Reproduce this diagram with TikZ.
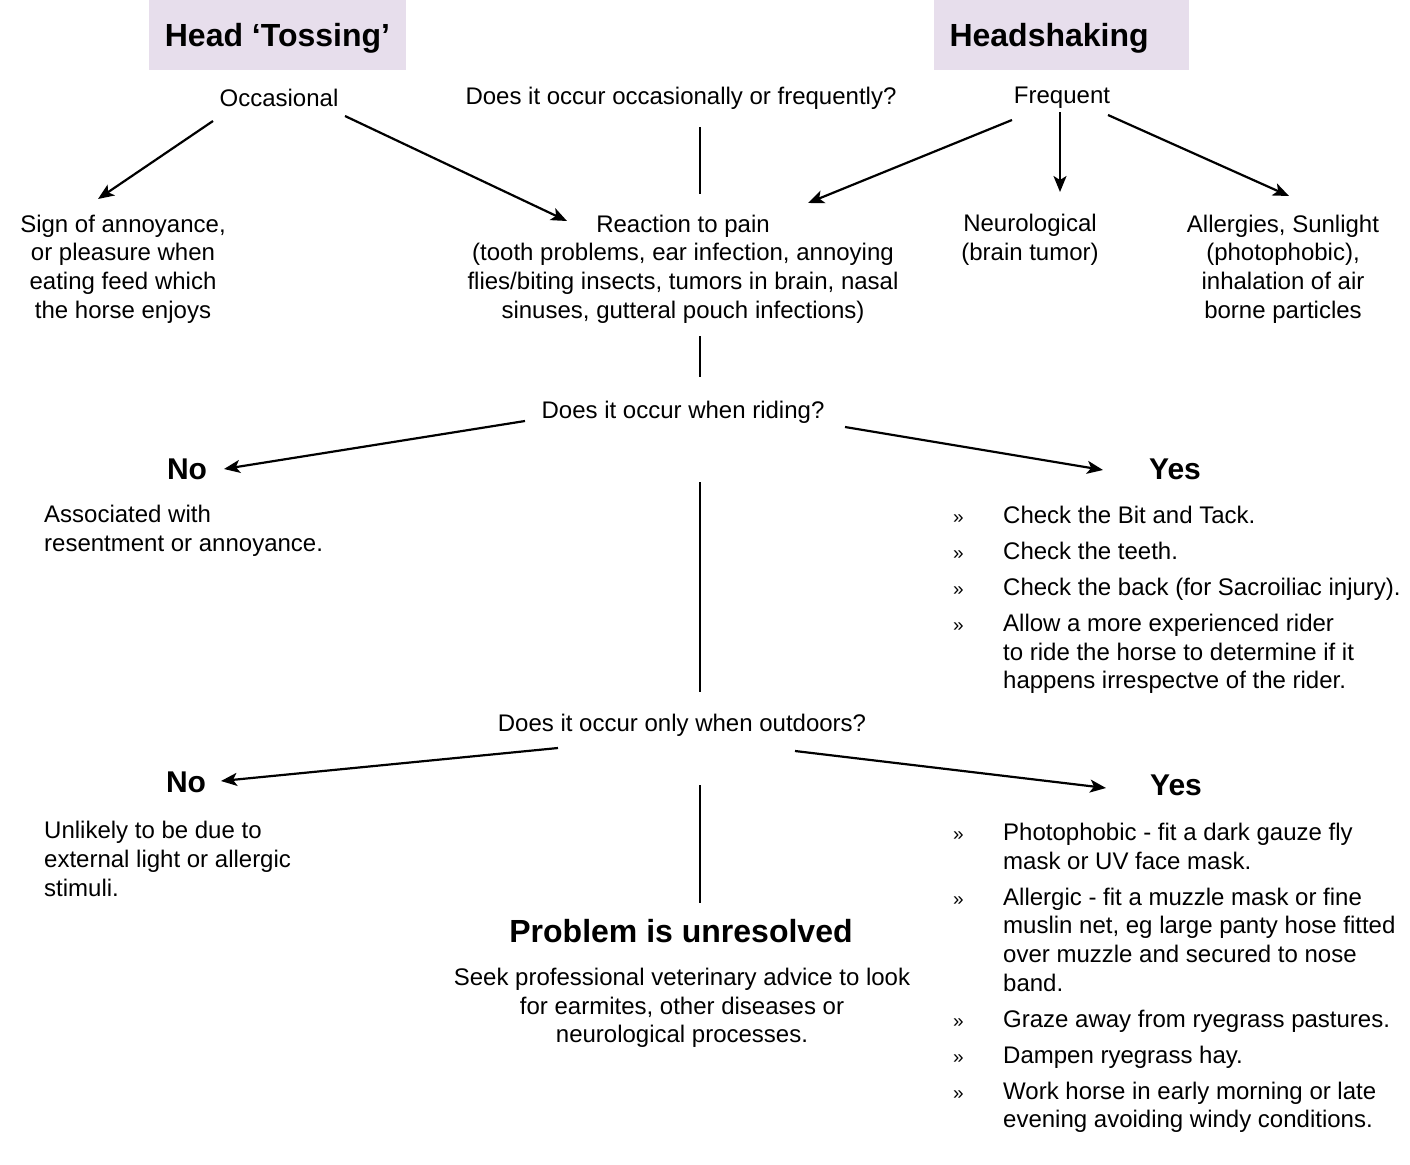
\documentclass[tikz,border=0pt]{standalone}
\usepackage{fontspec}
\setmainfont{Liberation Sans}
\usetikzlibrary{arrows.meta}
\definecolor{lav}{HTML}{E7DEEC}
\newcommand\blt{\makebox[50pt][l]{\fontsize{19}{19}\selectfont »}}
\newcommand\ind{\hspace*{50pt}}
\begin{document}
\begin{tikzpicture}[x=1pt,y=-1pt,
  txt/.style={inner sep=0pt, font=\fontsize{24}{28.7}\selectfont, align=center},
  ltxt/.style={inner sep=0pt, font=\fontsize{24}{28.7}\selectfont, align=left},
  bigb/.style={inner sep=0pt, font=\fontsize{30}{36}\selectfont\bfseries},
  unb/.style={inner sep=0pt, font=\fontsize{32}{38}\selectfont\bfseries},
  titlebox/.style={fill=lav, minimum height=70pt, minimum width=255pt, inner xsep=16pt, inner ysep=0pt, text height=23pt, text depth=0pt, font=\fontsize{32}{38}\selectfont\bfseries},
  conn/.style={line width=2.2pt},
  arr/.style={conn, -{Stealth[length=16pt,width=13pt,inset=4pt]}}]
\useasboundingbox (0,0) rectangle (1410,1164);

% titles
\node[titlebox] (toss) at (277.5,35) {Head ‘Tossing’};
\node[titlebox, text width=223pt, align=left] (shake) at (1061,35) {Headshaking};

% first row
\node[txt] (occ) at (279,98) {Occasional};
\node[txt] (q1) at (681,98) {Does it occur occasionally or frequently?};
\node[txt] (freq) at (1062,98) {Frequent};

% second row
\node[txt] (annoy) at (123,269) {Sign of annoyance,\\or pleasure when\\eating feed which\\the horse enjoys};
\node[txt] (pain) at (683,269) {Reaction to pain\\(tooth problems, ear infection, annoying\\flies/biting insects, tumors in brain, nasal\\sinuses, gutteral pouch infections)};
\node[txt] (neuro) at (1030,240) {Neurological\\(brain tumor)};
\node[txt] (allerg) at (1283,269) {Allergies, Sunlight\\(photophobic),\\inhalation of air\\borne particles};

% riding
\node[txt] (q2) at (683,412) {Does it occur when riding?};
\node[bigb] (no1) at (187,469) {No};
\node[bigb] (yes1) at (1175,469) {Yes};
\node[ltxt, anchor=west] (assoc) at (44,531) {Associated with\\resentment or annoyance.};
\node[ltxt, anchor=west] (yeslist1) at (953,600) {\blt Check the Bit and Tack.\\[7.3pt]
\blt Check the teeth.\\[7.3pt]
\blt Check the back (for Sacroiliac injury).\\[7.3pt]
\blt Allow a more experienced rider\\
\ind to ride the horse to determine if it\\
\ind happens irrespectve of the rider.};

% outdoors
\node[txt] (q3) at (682,725) {Does it occur only when outdoors?};
\node[bigb] (no2) at (186,782) {No};
\node[bigb] (yes2) at (1176,785) {Yes};
\node[ltxt, anchor=west] (unlikely) at (44,859) {Unlikely to be due to\\external light or allergic\\stimuli.};
\node[ltxt, anchor=west] (yeslist2) at (953,978) {\blt Photophobic - fit a dark gauze fly\\
\ind mask or UV face mask.\\[7.3pt]
\blt Allergic - fit a muzzle mask or fine\\
\ind muslin net, eg large panty hose fitted\\
\ind over muzzle and secured to nose\\
\ind band.\\[7.3pt]
\blt Graze away from ryegrass pastures.\\[7.3pt]
\blt Dampen ryegrass hay.\\[7.3pt]
\blt Work horse in early morning or late\\
\ind evening avoiding windy conditions.};

% unresolved
\node[unb] (unres) at (681,931) {Problem is unresolved};
\node[txt] (seek) at (682,1008) {Seek professional veterinary advice to look\\for earmites, other diseases or\\neurological processes.};

% connector end points
\coordinate (c1a) at (213,121); \coordinate (c1b) at (98,199);
\coordinate (c2a) at (345,116); \coordinate (c2b) at (567,221);
\coordinate (c3a) at (1012,120); \coordinate (c3b) at (808,203);
\coordinate (c4a) at (1060,112); \coordinate (c4b) at (1060,192);
\coordinate (c5a) at (1108,115); \coordinate (c5b) at (1289,196);
\coordinate (v1a) at (700,127); \coordinate (v1b) at (700,194);
\coordinate (v2a) at (700,336); \coordinate (v2b) at (700,377);
\coordinate (c8a) at (525,421); \coordinate (c8b) at (224,469);
\coordinate (c9a) at (845,427); \coordinate (c9b) at (1103,470);
\coordinate (v3a) at (700,482); \coordinate (v3b) at (700,692);
\coordinate (c11a) at (558,748); \coordinate (c11b) at (221,781);
\coordinate (c12a) at (795,751); \coordinate (c12b) at (1106,788);
\coordinate (v4a) at (700,785); \coordinate (v4b) at (700,903);

\draw[arr] (c1a) -- (c1b);
\draw[arr] (c2a) -- (c2b);
\draw[arr] (c3a) -- (c3b);
\draw[arr] (c4a) -- (c4b);
\draw[arr] (c5a) -- (c5b);
\draw[conn] (v1a) -- (v1b);
\draw[conn] (v2a) -- (v2b);
\draw[arr] (c8a) -- (c8b);
\draw[arr] (c9a) -- (c9b);
\draw[conn] (v3a) -- (v3b);
\draw[arr] (c11a) -- (c11b);
\draw[arr] (c12a) -- (c12b);
\draw[conn] (v4a) -- (v4b);
\end{tikzpicture}
\end{document}
